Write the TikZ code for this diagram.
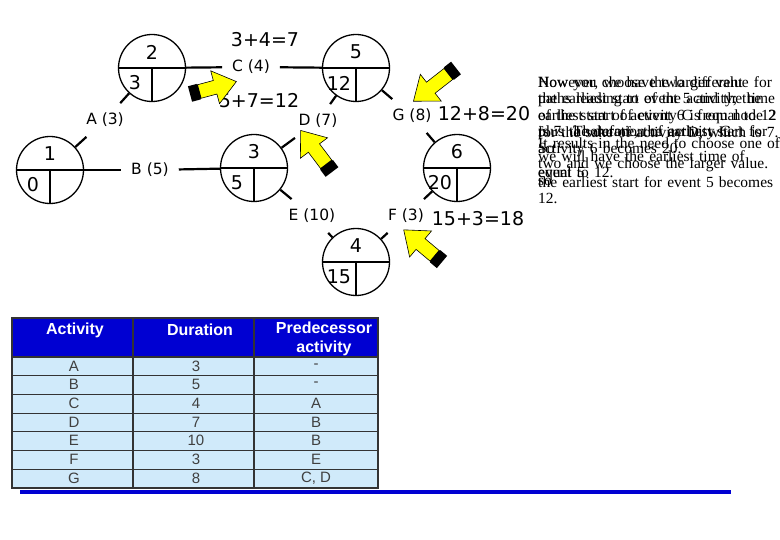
\documentclass[tikz,border=0pt]{standalone}
\usepackage{fontspec}
\setmainfont{DejaVu Sans}
\newfontfamily\arialf{Liberation Sans}
\newfontfamily\timesf{Liberation Serif}
\definecolor{hdrblue}{RGB}{0,0,210}
\definecolor{rowblue}{RGB}{208,234,250}
\definecolor{arrowyel}{RGB}{255,255,0}
\newcommand\blockarrow[3]{%
  \begin{scope}[shift={(#1)},rotate=#2]
    \fill[black] (0,-8) rectangle (9,8);
    \filldraw[fill=arrowyel,draw=black,line width=0.6pt]
      (9,-7) -- (#3-22,-7) -- (#3-22,-17) -- (#3,0) -- (#3-22,17) -- (#3-22,7) -- (9,7) -- cycle;
    \draw[black,line width=2pt] (9,-7) -- (9,7);
  \end{scope}}
\begin{document}
\begin{tikzpicture}[x=1pt,y=-1pt,
  ev/.style={circle,draw,line width=1.3pt,minimum size=67pt,inner sep=0pt},
  lbl/.style={font=\fontsize{15.5}{17}\selectfont,inner sep=2pt,outer sep=8pt},
  num/.style={font=\fontsize{19}{21}\selectfont,inner sep=0pt},
  calc/.style={font=\fontsize{19}{21}\selectfont,inner sep=0pt},
  edge/.style={line width=2.2pt},
  hd/.style={font=\arialf\bfseries\fontsize{16}{17}\selectfont,text=white,align=center},
  cell/.style={font=\arialf\fontsize{15}{16}\selectfont,text=black!75},
  para/.style={font=\timesf\fontsize{15.5}{16.5}\selectfont,anchor=north west,inner sep=0pt,text width=242pt,align=left}]
\useasboundingbox (0,0) rectangle (780,540);
\fill[white] (0,0) rectangle (780,540);
% events
\foreach \n/\x/\y/\t/\b in {1/50/170/1/0, 2/152/68/2/3, 3/254/168/3/5, 5/356/68/5/12, 6/457/168/6/20, 4/356/262/4/15}{
  \node[ev] (e\n) at (\x,\y) {};
  \draw[line width=1.3pt] (e\n.west) -- (e\n.east) (e\n.center) -- (e\n.south);
  \node[num] (t\n) at (\x,\y-16) {\t};
  \node[num] (b\n) at (\x-17,\y+15) {\b};
}
% activity labels
\node[lbl] (A) at (105,120) {A (3)};
\node[lbl] (B) at (150,170) {B (5)};
\node[lbl] (C) at (251,67) {C (4)};
\node[lbl] (D) at (318,121) {D (7)};
\node[lbl] (E) at (312,216) {E (10)};
\node[lbl] (F) at (406,216) {F (3)};
\node[lbl] (G) at (412,116) {G (8)};
\draw[edge] (e1) -- (A); \draw[edge] (A) -- (e2);
\draw[edge] (e1) -- (B); \draw[edge] (B) -- (e3);
\draw[edge] (e2) -- (C); \draw[edge] (C) -- (e5);
\draw[edge] (e3) -- (D); \draw[edge] (D) -- (e5);
\draw[edge] (e3) -- (E); \draw[edge] (E) -- (e4);
\draw[edge] (e4) -- (F); \draw[edge] (F) -- (e6);
\draw[edge] (e5) -- (G); \draw[edge] (G) -- (e6);
% calculations
\node[calc] (c1) at (265,40) {3+4=7};
\node[calc] (c2) at (259,101) {5+7=12};
\node[calc] (c3) at (484,114) {12+8=20};
\node[calc] (c4) at (478,219) {15+3=18};
% yellow arrows
\blockarrow{190,94}{15}{48}
\blockarrow{332,172}{127}{52}
\blockarrow{456,68}{-142}{54}
\blockarrow{442,262}{140}{50}
% overlapping explanation text
\node[para] (p1) at (538,76) {\raggedright However, we have two different paths leading to event 5 and the time of the start of activity C from node 2 is 7. Therefore, the earliest start for activity 6 becomes 20.};
\node[para] (p2) at (538,76) {\raggedright Now you choose the larger value for the earliest start of the activity; the earliest start of event 6 is equal to 12 plus the duration of activity G};
\node[para] (p3) at (538,126) {for the sake of activity D, which is 7. So};
\node[para] (p4) at (538,137) {It results in the need to choose one of};
\node[para] (p5) at (538,150) {we will have the earliest time of event 5};
\node[para] (p6) at (538,158) {two and we choose the larger value. so};
\node[para] (p7) at (538,167) {equal to 12.};
\node[para] (p8) at (538,176) {the earliest start for event 5 becomes 12.};
% table
\fill[hdrblue] (12,318) rectangle (378,357);
\fill[rowblue] (12,357) rectangle (378,488);
\foreach \i in {1,...,6}{\draw[black!80,line width=1pt] (12,357+\i*18.7) -- (378,357+\i*18.7);}
\draw[black!80,line width=1.2pt] (12,318) rectangle (378,488);
\draw[black!80,line width=1.2pt] (133,318) -- (133,488) (254,318) -- (254,488) (12,357) -- (378,357);
\node[hd] (h1) at (75,330) {Activity};
\node[hd] (h2) at (200,330) {Duration};
\node[hd,font=\arialf\bfseries\fontsize{16}{19}\selectfont] (h3) at (324,339) {Predecessor\\activity};
\foreach \r/\a/\d/\p in {0/A/3/-, 1/B/5/-, 2/C/4/A, 3/D/7/B, 4/E/10/B, 5/F/3/E, 6/G/8/{C, D}}{
  \node[cell] at (74,366+\r*18.7) {\a};
  \node[cell] at (196,366+\r*18.7) {\d};
  \node[cell] at (316,366+\r*18.7) {\p};
}
\fill[hdrblue] (20,490) rectangle (731,494);
\end{tikzpicture}
\end{document}
